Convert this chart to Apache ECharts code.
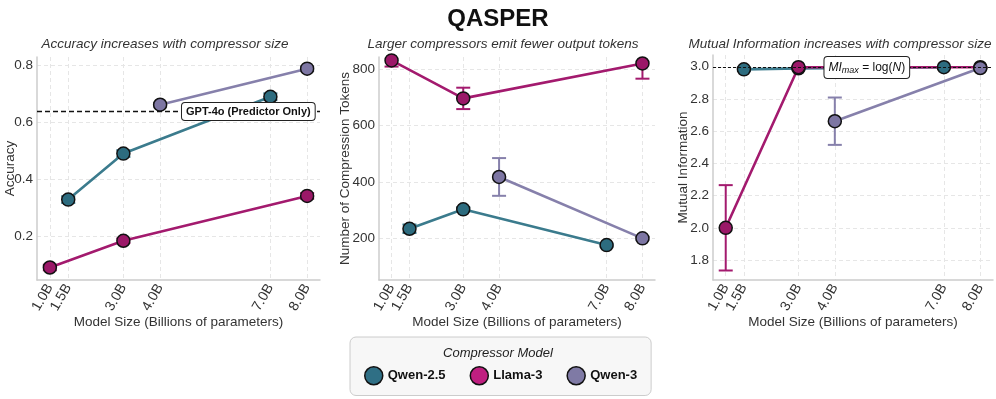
<!DOCTYPE html>
<html>
<head>
<meta charset="utf-8">
<script src="https://cdn.jsdelivr.net/npm/echarts@6/dist/echarts.min.js"></script>
<style>
html, body { margin: 0; padding: 0; background: #fff; }
#chart { width: 996px; height: 399px; }
</style>
</head>
<body>
<div id="chart"></div>
<script>
const FONT = '"Liberation Sans", Arial, sans-serif';

const MODELS = ['Qwen-2.5', 'Llama-3', 'Qwen-3'];
const LINE_COLORS = ['#3b7b8d', '#a31a6e', '#8680ab'];
const DOT_COLORS = ['#2d6c7f', '#9b1868', '#7d76a3'];
const LEGEND_COLORS = ['#2f6f85', '#c01f80', '#7f7aa5'];

// model sizes (billions of parameters) per compressor
const QWEN25_SIZES = [1.5, 3, 7];
const LLAMA_SIZES = [1, 3, 8];
const QWEN3_SIZES = [4, 8];

const X_TICKS = [1, 1.5, 3, 4, 7, 8];
const X_TICK_LABELS = ['1.0B', '1.5B', '3.0B', '4.0B', '7.0B', '8.0B'];

// accuracy
const ACC_QWEN25 = [0.328, 0.490, 0.690];
const ACC_QWEN25_ERR = [0.012, 0.012, 0.012];
const ACC_LLAMA = [0.089, 0.183, 0.341];
const ACC_LLAMA_ERR = [0.010, 0.008, 0.010];
const ACC_QWEN3 = [0.662, 0.789];
const ACC_QWEN3_ERR = [0.006, 0.008];
const ACC_TICKS = [0.2, 0.4, 0.6, 0.8];
const GPT4O_ACC = 0.638;

// compression tokens
const TOK_QWEN25 = [234, 303, 176];
const TOK_QWEN25_ERR = [15, 7, 5];
const TOK_LLAMA = [832, 697, 821];
const TOK_LLAMA_ERR = [22, 38, 54];
const TOK_QWEN3 = [418, 200];
const TOK_QWEN3_ERR = [67, 5];
const TOK_TICKS = [200, 400, 600, 800];

// mutual information
const MI_QWEN25 = [2.984, 2.990, 2.997];
const MI_QWEN25_ERR = [0.010, 0.006, 0.002];
const MI_LLAMA = [2.0, 2.997, 2.997];
const MI_LLAMA_ERR = [0.265, 0.004, 0.004];
const MI_QWEN3 = [2.662, 2.992];
const MI_QWEN3_ERR = [0.147, 0.008];
const MI_TICKS = [1.8, 2.0, 2.2, 2.4, 2.6, 2.8, 3.0];
const MI_MAX = 2.996;

const PANELS = [
    {
        title: 'Accuracy increases with compressor size', titleX: 160,
        grid: { left: 37, top: 57, width: 283, height: 223 },
        yMin: 0.045, yMax: 0.83, yTicks: ACC_TICKS, yName: 'Accuracy', yGap: 20, fmt: v => v.toFixed(1),
        series: [[QWEN25_SIZES, ACC_QWEN25, ACC_QWEN25_ERR], [LLAMA_SIZES, ACC_LLAMA, ACC_LLAMA_ERR], [QWEN3_SIZES, ACC_QWEN3, ACC_QWEN3_ERR]],
    },
    {
        title: 'Larger compressors emit fewer output tokens', titleX: 498,
        grid: { left: 379, top: 57, width: 276, height: 223 },
        yMin: 52, yMax: 844, yTicks: TOK_TICKS, yName: 'Number of Compression Tokens', yGap: 27, fmt: v => String(v),
        series: [[QWEN25_SIZES, TOK_QWEN25, TOK_QWEN25_ERR], [LLAMA_SIZES, TOK_LLAMA, TOK_LLAMA_ERR], [QWEN3_SIZES, TOK_QWEN3, TOK_QWEN3_ERR]],
    },
    {
        title: 'Mutual Information increases with compressor size', titleX: 835,
        grid: { left: 713, top: 55, width: 280, height: 225 },
        yMin: 1.676, yMax: 3.073, yTicks: MI_TICKS, yName: 'Mutual Information', yGap: 23, fmt: v => v.toFixed(1),
        series: [[QWEN25_SIZES, MI_QWEN25, MI_QWEN25_ERR], [LLAMA_SIZES, MI_LLAMA, MI_LLAMA_ERR], [QWEN3_SIZES, MI_QWEN3, MI_QWEN3_ERR]],
    },
];

function errorBarItem(color) {
    return function (params, api) {
        const x = api.value(0), y = api.value(1), e = api.value(2);
        const top = api.coord([x, y + e]);
        const bot = api.coord([x, y - e]);
        const cap = 7;
        const style = { stroke: color, lineWidth: 2 };
        return {
            type: 'group',
            children: [
                { type: 'line', shape: { x1: top[0], y1: top[1], x2: bot[0], y2: bot[1] }, style },
                { type: 'line', shape: { x1: top[0] - cap, y1: top[1], x2: top[0] + cap, y2: top[1] }, style },
                { type: 'line', shape: { x1: bot[0] - cap, y1: bot[1], x2: bot[0] + cap, y2: bot[1] }, style },
            ],
        };
    };
}

const grids = [], xAxes = [], yAxes = [], series = [], titles = [];

titles.push({
    text: 'QASPER', left: 'center', top: 2,
    textStyle: { fontFamily: FONT, fontSize: 24, fontWeight: 'bold', color: '#111' },
});

PANELS.forEach((p, i) => {
    grids.push({ ...p.grid, containLabel: false, outerBoundsMode: 'none' });
    titles.push({
        text: p.title, left: p.titleX, top: 32, textAlign: 'center',
        textStyle: { fontFamily: FONT, fontSize: 13.5, fontStyle: 'italic', fontWeight: 'normal', color: '#333' },
    });
    xAxes.push({
        type: 'value', gridIndex: i, min: 0.65, max: 8.35,
        name: 'Model Size (Billions of parameters)', nameLocation: 'middle', nameGap: 35, nameMoveOverlap: false,
        nameTextStyle: { fontFamily: FONT, fontSize: 13.5, color: '#333' },
        axisLine: { lineStyle: { color: '#cccccc', width: 1.5 } },
        axisTick: { show: false, customValues: X_TICKS },
        axisLabel: {
            customValues: X_TICKS, rotate: 60, margin: 5, fontFamily: FONT, fontSize: 14, color: '#333',
            formatter: v => X_TICK_LABELS[X_TICKS.indexOf(v)] || '',
        },
        splitLine: { show: true, lineStyle: { color: '#e6e6e6', type: [4, 3] } },
    });
    yAxes.push({
        type: 'value', gridIndex: i, min: p.yMin, max: p.yMax,
        name: p.yName, nameLocation: 'middle', nameGap: p.yGap, nameRotate: 90, nameMoveOverlap: false,
        nameTextStyle: { fontFamily: FONT, fontSize: 13.5, color: '#333' },
        axisLine: { show: true, lineStyle: { color: '#cccccc', width: 1.5 } },
        axisTick: { show: false, customValues: p.yTicks },
        axisLabel: { customValues: p.yTicks, margin: 4, fontFamily: FONT, fontSize: 13.5, color: '#333', formatter: p.fmt },
        splitLine: { show: true, lineStyle: { color: '#e6e6e6', type: [4, 3] } },
    });

    p.series.forEach(([xs, ys, errs], m) => {
        series.push({
            type: 'custom', name: MODELS[m], xAxisIndex: i, yAxisIndex: i, clip: true, z: 2,
            renderItem: errorBarItem(LINE_COLORS[m]),
            data: xs.map((x, k) => [x, ys[k], errs[k]]),
            silent: true,
        });
    });
    p.series.forEach(([xs, ys], m) => {
        series.push({
            type: 'line', name: MODELS[m], xAxisIndex: i, yAxisIndex: i, z: 3,
            data: xs.map((x, k) => [x, ys[k]]),
            symbol: 'circle', symbolSize: 13,
            lineStyle: { color: LINE_COLORS[m], width: 2.6 },
            itemStyle: { color: DOT_COLORS[m], borderColor: '#111', borderWidth: 1.5 },
            emphasis: { disabled: true },
            animation: false,
        });
    });
});

// GPT-4o reference line (panel 1)
series.push({
    type: 'line', name: 'ref-acc', xAxisIndex: 0, yAxisIndex: 0, data: [], z: 1,
    markLine: {
        silent: true, symbol: 'none', label: { show: false },
        lineStyle: { color: '#111', type: [5, 3], width: 1.3 },
        data: [{ yAxis: GPT4O_ACC }],
    },
    markPoint: {
        silent: true, symbol: 'circle', symbolSize: 0,
        label: {
            show: true, position: 'inside', formatter: 'GPT-4o (Predictor Only)',
            fontFamily: FONT, fontSize: 11, fontWeight: 'bold', color: '#111',
            backgroundColor: '#fff', borderColor: '#222', borderWidth: 1, borderRadius: 3, padding: [3, 4],
        },
        data: [{ coord: [6.4, GPT4O_ACC] }],
    },
});

// MI max reference line (panel 3)
series.push({
    type: 'line', name: 'ref-mi', xAxisIndex: 2, yAxisIndex: 2, data: [], z: 1,
    markLine: {
        silent: true, symbol: 'none', label: { show: false },
        lineStyle: { color: '#111', type: [3, 2], width: 1 },
        data: [{ yAxis: MI_MAX }],
    },
    markPoint: {
        silent: true, symbol: 'circle', symbolSize: 0,
        label: {
            show: true, position: 'inside',
            formatter: '{i|MI}{s|max}{n| = log(}{i|N}{n|)}',
            backgroundColor: '#fff', borderColor: '#222', borderWidth: 1, borderRadius: 3, padding: [3, 4],
            rich: {
                i: { fontFamily: FONT, fontSize: 12, fontStyle: 'italic', color: '#111' },
                s: { fontFamily: FONT, fontSize: 9, fontStyle: 'italic', color: '#111', verticalAlign: 'bottom', padding: [6, 0, 0, 0] },
                n: { fontFamily: FONT, fontSize: 12, color: '#111' },
            },
        },
        data: [{ coord: [4.88, MI_MAX] }],
    },
});

const chart = echarts.init(document.getElementById('chart'), null, { renderer: 'canvas' });
chart.setOption({
    animation: false,
    backgroundColor: '#fff',
    title: titles,
    grid: grids,
    xAxis: xAxes,
    yAxis: yAxes,
    series,
    legend: {
        left: 350, top: 337,
        padding: [29, 14, 10, 14],
        itemGap: 24, itemWidth: 18, itemHeight: 18,
        icon: 'circle',
        backgroundColor: '#f7f7f7', borderColor: '#cccccc', borderWidth: 1, borderRadius: 6,
        textStyle: { fontFamily: FONT, fontSize: 13, fontWeight: 'bold', color: '#111' },
        data: MODELS.map((name, m) => ({
            name, itemStyle: { color: LEGEND_COLORS[m], borderColor: '#111', borderWidth: 1.5 },
        })),
        selectedMode: false,
    },
    graphic: [{
        type: 'text', left: 'center', top: 347, z: 100,
        style: { text: 'Compressor Model', fontFamily: FONT, fontSize: 13, fontStyle: 'italic', fill: '#222' },
    }],
});
</script>
</body>
</html>
